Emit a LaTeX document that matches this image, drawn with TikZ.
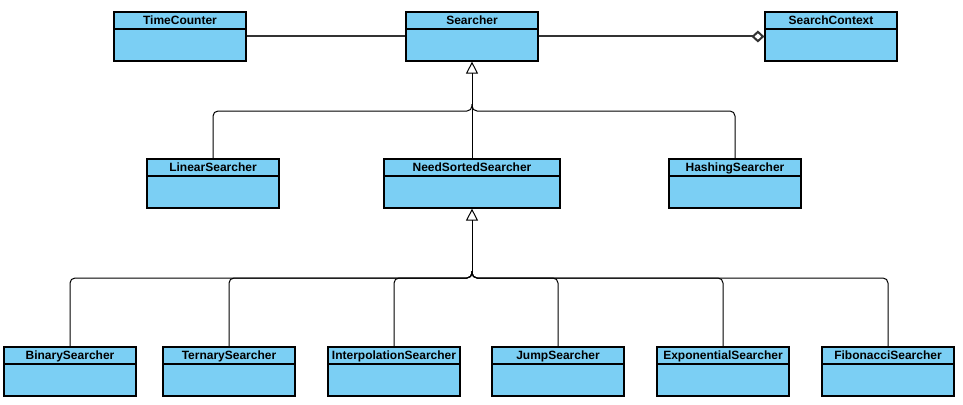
\documentclass[tikz,border=0pt]{standalone}
\usepackage{fontspec}
\setmainfont{Liberation Sans}
\usetikzlibrary{arrows.meta}
\definecolor{classblue}{HTML}{7BCFF4}
\tikzset{
classbox/.style=
    {rectangle,
    draw=black,
    fill=classblue,
    line width=1.2pt,
    minimum width=132pt,
    minimum height=49pt,
    inner sep=0pt,
    path picture={\draw[line width=1.2pt]
        ([yshift=-17pt]path picture bounding box.north west) --
        ([yshift=-17pt]path picture bounding box.north east);}
    },
classname/.style=
    {anchor=north,
    inner sep=0pt,
    yshift=-4pt,
    font=\fontsize{12}{14}\selectfont\bfseries
    },
assoc/.style=
    {draw=black!80,
    line width=2pt
    },
branch/.style=
    {draw=black,
    line width=1pt,
    rounded corners=5pt
    },
genline/.style=
    {draw=black,
    line width=1pt,
    -{Triangle[open,length=12pt,width=12pt]}
    }}

\begin{document}
\begin{tikzpicture}[x=1pt,y=-1pt]
\useasboundingbox (0,0) rectangle (963,404);

% top row
\node[classbox,label={[classname]north:TimeCounter}] (tc) at (180,36.5) {};
\node[classbox,label={[classname]north:Searcher}] (srch) at (472,36.5) {};
\node[classbox,label={[classname]north:SearchContext}] (ctx) at (831,36.5) {};

% middle row
\node[classbox,label={[classname]north:LinearSearcher}] (lin) at (213,183.5) {};
\node[classbox,minimum width=176pt,label={[classname]north:NeedSortedSearcher}] (sorted) at (472,183.5) {};
\node[classbox,label={[classname]north:HashingSearcher}] (hash) at (735,183.5) {};

% bottom row
\node[classbox,label={[classname]north:BinarySearcher}] (bin) at (70,371.5) {};
\node[classbox,label={[classname]north:TernarySearcher}] (tern) at (229,371.5) {};
\node[classbox,label={[classname]north:InterpolationSearcher}] (interp) at (394,371.5) {};
\node[classbox,label={[classname]north:JumpSearcher}] (jump) at (558,371.5) {};
\node[classbox,label={[classname]north:ExponentialSearcher}] (expo) at (723,371.5) {};
\node[classbox,label={[classname]north:FibonacciSearcher}] (fib) at (888,371.5) {};

% associations
\draw[assoc] (tc.east) -- (srch.west);
\draw[assoc,-{Diamond[open,length=13pt,width=12pt]}] (srch.east) -- (ctx.west);

% inheritance
\coordinate (j1) at (472,111);
\coordinate (j1up) at (472,104);
\coordinate (j2) at (472,278);
\coordinate (j2up) at (472,271);
\draw[genline] (sorted.north) -- (srch.south);
\foreach \c in {lin,hash}
    \draw[branch] (\c.north) |- (j1) -- (j1up);
\draw[genline] (j2up) -- (sorted.south);
\foreach \c in {bin,tern,interp,jump,expo,fib}
    \draw[branch] (\c.north) |- (j2) -- (j2up);

\end{tikzpicture}
\end{document}
